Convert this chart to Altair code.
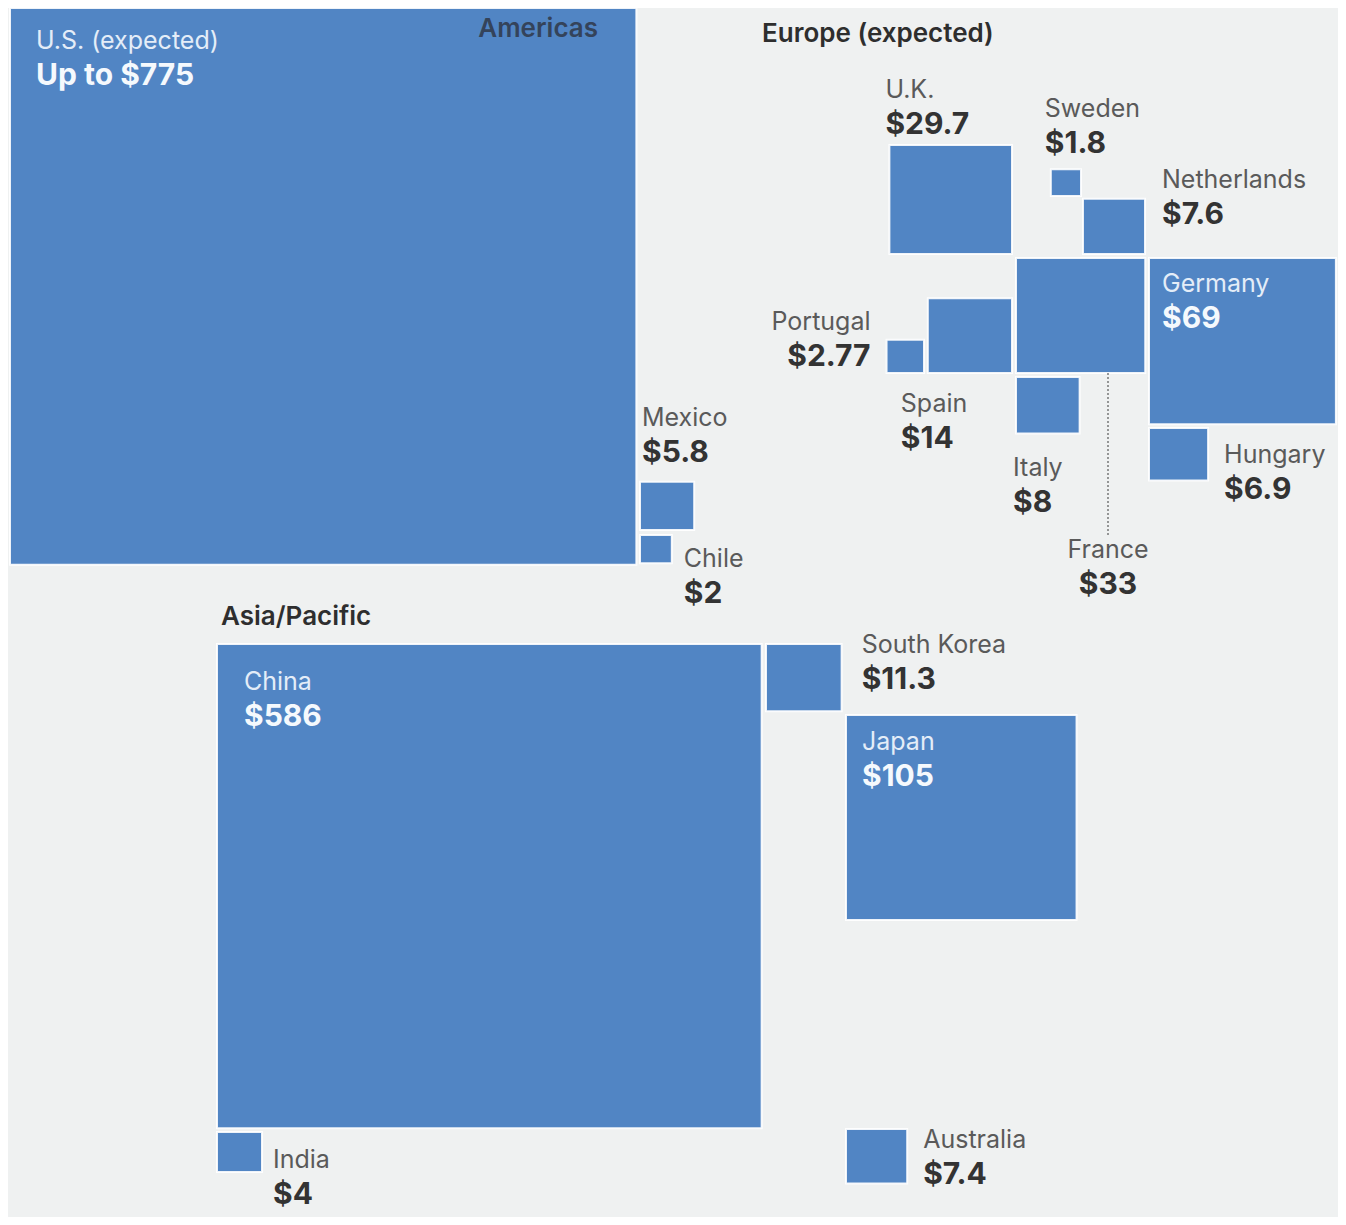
import altair as alt
import pandas as pd
import numpy as np

# ---- data ----
countries = ["U.S.", "Mexico", "Chile", "U.K.", "Sweden", "Netherlands", "Germany",
             "France", "Portugal", "Spain", "Italy", "Hungary",
             "China", "South Korea", "Japan", "India", "Australia"]
values = [775, 5.8, 2, 29.7, 1.8, 7.6, 69, 33, 2.77, 14, 8, 6.9,
          586, 11.3, 105, 4, 7.4]
name_labels = ["U.S. (expected)", "Mexico", "Chile", "U.K.", "Sweden", "Netherlands",
               "Germany", "France", "Portugal", "Spain", "Italy", "Hungary",
               "China", "South Korea", "Japan", "India", "Australia"]
value_labels = ["Up to $775", "$5.8", "$2", "$29.7", "$1.8", "$7.6", "$69", "$33",
                "$2.77", "$14", "$8", "$6.9", "$586", "$11.3", "$105", "$4", "$7.4"]
region_titles = ["Americas", "Europe (expected)", "Asia/Pacific"]

# ---- layout (anchor corner of each square, label placement) ----
KX, KY = 22.5, 20.0  # side length per sqrt(value) unit (horizontal, vertical)
layout = {
    "U.S.":        dict(c="tl", ax=10,   ay=8,    lx="x1", dx=26,  ly="y1", dy=41,  al="left",  ins=True),
    "Mexico":      dict(c="bl", ax=640,  ay=530,  lx="x1", dx=2,   ly="y1", dy=-56, al="left",  ins=False),
    "Chile":       dict(c="tl", ax=640,  ay=535,  lx="x2", dx=12,  ly="y1", dy=32,  al="left",  ins=False),
    "U.K.":        dict(c="br", ax=1012, ay=254,  lx="x1", dx=-4,  ly="y1", dy=-47, al="left",  ins=False),
    "Sweden":      dict(c="br", ax=1081, ay=196,  lx="x1", dx=-6,  ly="y1", dy=-52, al="left",  ins=False),
    "Netherlands": dict(c="br", ax=1145, ay=254,  lx="x2", dx=17,  ly="y1", dy=-11, al="left",  ins=False),
    "Germany":     dict(c="tl", ax=1149, ay=258,  lx="x1", dx=13,  ly="y1", dy=34,  al="left",  ins=True),
    "France":      dict(c="tl", ax=1016, ay=258,  lx="x1", dx=92,  ly="y2", dy=185, al="center", ins=False),
    "Portugal":    dict(c="br", ax=924,  ay=373,  lx="x1", dx=-16, ly="y1", dy=-10, al="right", ins=False),
    "Spain":       dict(c="br", ax=1012, ay=373,  lx="x1", dx=-27, ly="y2", dy=39,  al="left",  ins=False),
    "Italy":       dict(c="tl", ax=1016, ay=377,  lx="x1", dx=-3,  ly="y2", dy=42,  al="left",  ins=False),
    "Hungary":     dict(c="tl", ax=1149, ay=428,  lx="x2", dx=16,  ly="y1", dy=35,  al="left",  ins=False),
    "China":       dict(c="tl", ax=217,  ay=644,  lx="x1", dx=27,  ly="y1", dy=46,  al="left",  ins=True),
    "South Korea": dict(c="tl", ax=766,  ay=644,  lx="x2", dx=20,  ly="y1", dy=9,   al="left",  ins=False),
    "Japan":       dict(c="tl", ax=846,  ay=715,  lx="x1", dx=16,  ly="y1", dy=35,  al="left",  ins=True),
    "India":       dict(c="tl", ax=217,  ay=1132, lx="x2", dx=11,  ly="y1", dy=36,  al="left",  ins=False),
    "Australia":   dict(c="tl", ax=846,  ay=1129, lx="x2", dx=16,  ly="y1", dy=19,  al="left",  ins=False),
}
title_layout = [
    dict(x=598, y=37, al="right", color="#34435A"),
    dict(x=762, y=42, al="left", color="#2E2E2E"),
    dict(x=221, y=625, al="left", color="#2E2E2E"),
]
LINE_GAP = 36
FONT = "Inter"

# ---- build tables ----
rows = []
for c, v in zip(countries, values):
    L = layout[c]
    w = KX * np.sqrt(v)
    h = KY * np.sqrt(v)
    if L["c"] == "tl":
        x1, y1 = L["ax"], L["ay"]
    elif L["c"] == "br":
        x1, y1 = L["ax"] - w, L["ay"] - h
    elif L["c"] == "bl":
        x1, y1 = L["ax"], L["ay"] - h
    else:
        x1, y1 = L["ax"] - w, L["ay"]
    rows.append(dict(country=c, value=v, x1=x1, x2=x1 + w, y1=y1, y2=y1 + h))
sq = pd.DataFrame(rows)

texts = []
for i, c in enumerate(countries):
    L = layout[c]
    r = sq.iloc[i]
    lx = r[L["lx"]] + L["dx"]
    ly = r[L["ly"]] + L["dy"]
    ncol = "#E4EDF8" if L["ins"] else "#5A5A5A"
    vcol = "#F5F9FD" if L["ins"] else "#333333"
    texts.append(dict(x=lx, y=ly, text=name_labels[i], color=ncol, w=400, s=25, al=L["al"]))
    texts.append(dict(x=lx, y=ly + LINE_GAP, text=value_labels[i], color=vcol, w=700, s=30, al=L["al"]))
for t, T in zip(region_titles, title_layout):
    texts.append(dict(x=T["x"], y=T["y"], text=t, color=T["color"], w=600, s=26, al=T["al"]))
tx = pd.DataFrame(texts)

# France leader line (dotted) from bottom of France square to its label
fr = sq[sq.country == "France"].iloc[0]
fl = layout["France"]
lead = pd.DataFrame([dict(x=fr.x1 + fl["dx"], y=fr.y2, y2=fr.y2 + 162)])

W, H = 1330, 1209
xs = alt.Scale(domain=[8, 8 + W], nice=False, zero=False)
ys = alt.Scale(domain=[8, 8 + H], nice=False, zero=False, reverse=True)

rects = alt.Chart(sq).mark_rect(stroke="#FFFFFF", strokeWidth=2, strokeOpacity=0.9).encode(
    x=alt.X("x1:Q", scale=xs, axis=None),
    x2="x2:Q",
    y=alt.Y("y1:Q", scale=ys, axis=None),
    y2="y2:Q",
    color=alt.value("#5185C4"),
)

leader = alt.Chart(lead).mark_rule(color="#777777", strokeDash=[2, 2], strokeWidth=1.5).encode(
    x=alt.X("x:Q", scale=xs, axis=None),
    y=alt.Y("y:Q", scale=ys, axis=None),
    y2="y2:Q",
)

layers = [rects, leader]
for (w, s, al), sub in tx.groupby(["w", "s", "al"]):
    layers.append(
        alt.Chart(sub).mark_text(align=al, baseline="alphabetic", font=FONT,
                                 fontSize=int(s), fontWeight=int(w)).encode(
            x=alt.X("x:Q", scale=xs, axis=None),
            y=alt.Y("y:Q", scale=ys, axis=None),
            text="text:N",
            color=alt.Color("color:N", scale=None),
        )
    )

chart = alt.layer(*layers).properties(
    width=W, height=H, background="#EFF1F1", padding=0,
    autosize=alt.AutoSizeParams(type="none"),
).configure_view(stroke=None)

chart.save("out.html", embed_options={"renderer": "svg", "actions": False})
